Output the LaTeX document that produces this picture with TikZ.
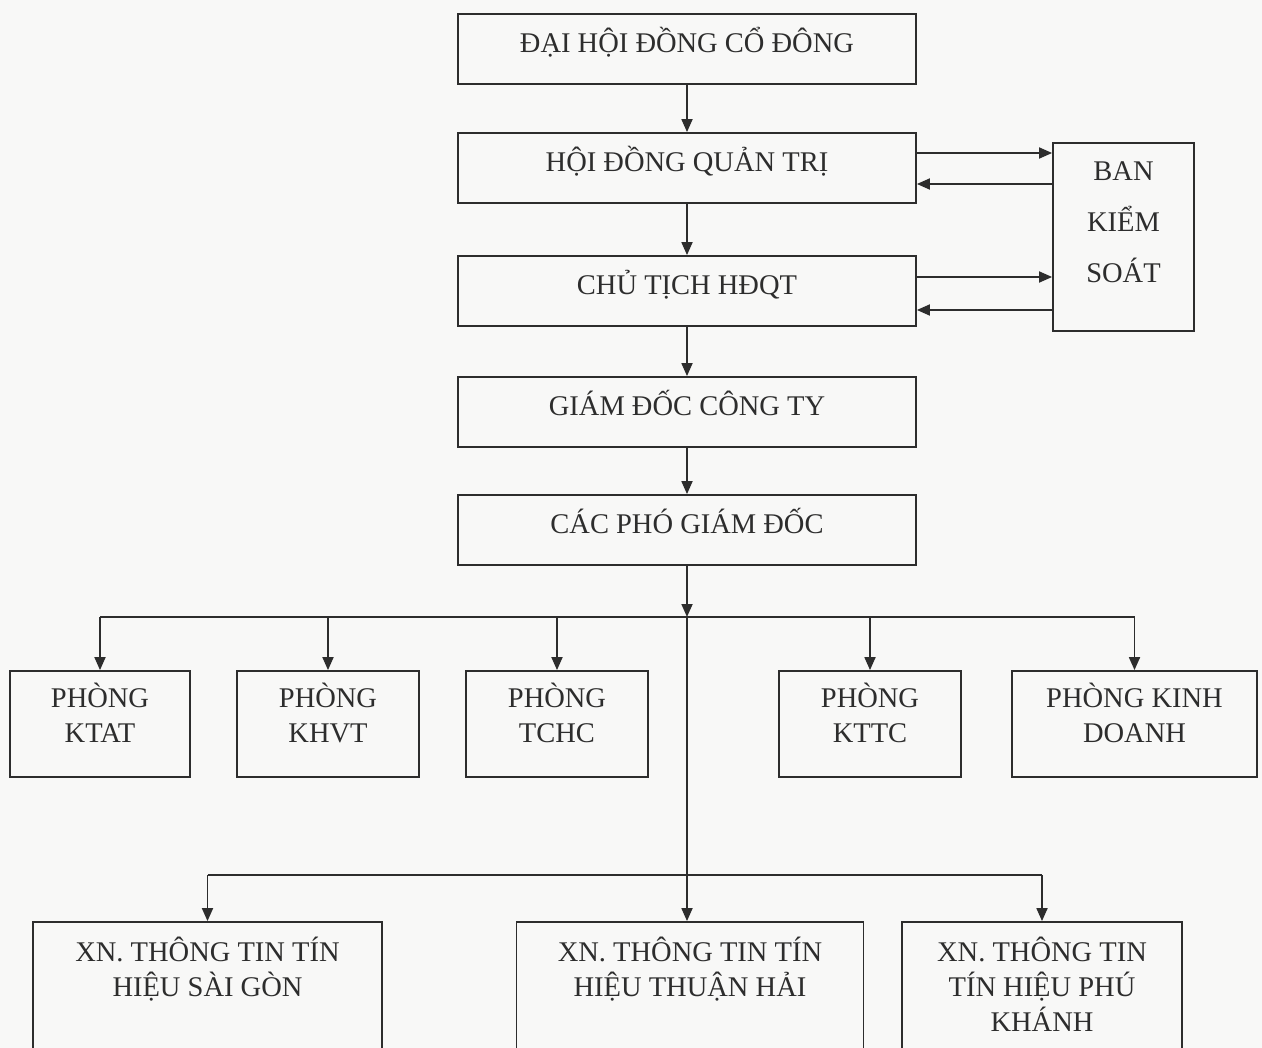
\documentclass[tikz,border=0pt]{standalone}
\usepackage{fontspec}
\setmainfont{Liberation Serif}
\usetikzlibrary{arrows.meta,calc}
\definecolor{ink}{RGB}{45,45,45}
\definecolor{paper}{RGB}{248,248,247}
\newcommand{\lowr}[1]{\rule[-#1]{0pt}{#1}}
\begin{document}
\begin{tikzpicture}[x=1pt,y=-1pt,
  box/.style={draw=ink, line width=1.8pt, align=center, inner sep=0pt, text=ink,
    font=\fontsize{28.5}{35}\selectfont},
  one/.style={box, text height=26pt, text depth=18pt},
  mainbox/.style={one, minimum width=458pt, minimum height=70pt},
  phong/.style={box, minimum height=106pt},
  xn/.style={box, minimum height=132pt},
  arr/.style={draw=ink, line width=1.8pt, -{Triangle[length=13pt,width=11pt]}},
  ln/.style={draw=ink, line width=1.8pt}]
\fill[paper] (0,0) rectangle (1262,1048);
\clip (0,0) rectangle (1262,1048);

\node[mainbox] (dh)   at (687,49)  {ĐẠI HỘI ĐỒNG CỔ ĐÔNG};
\node[mainbox] (hdqt) at (687,168) {HỘI ĐỒNG QUẢN TRỊ};
\node[mainbox] (ct)   at (687,291) {CHỦ TỊCH HĐQT};
\node[mainbox] (gd)   at (687,412) {GIÁM ĐỐC CÔNG TY};
\node[mainbox] (cpgd) at (687,530) {CÁC PHÓ GIÁM ĐỐC};

\node[box, font=\fontsize{28.5}{51}\selectfont, minimum width=141pt, minimum height=188pt]
  (bks) at (1123.5,237) {BAN\\KIỂM\\SOÁT\lowr{30pt}};

\node[phong, minimum width=180pt] (ktat) at (100,724)    {PHÒNG\\KTAT\lowr{23pt}};
\node[phong, minimum width=182pt] (khvt) at (328,724)    {PHÒNG\\KHVT\lowr{23pt}};
\node[phong, minimum width=182pt] (tchc) at (557,724)    {PHÒNG\\TCHC\lowr{23pt}};
\node[phong, minimum width=182pt] (kttc) at (870,724)    {PHÒNG\\KTTC\lowr{23pt}};
\node[phong, minimum width=245pt] (kd)   at (1134.5,724) {PHÒNG KINH\\DOANH\lowr{23pt}};

\node[xn, minimum width=349pt] (sg) at (207.5,988) {XN. THÔNG TIN TÍN\\HIỆU SÀI GÒN\lowr{43pt}};
\node[xn, minimum width=347pt] (th) at (690,988)   {XN. THÔNG TIN TÍN\\HIỆU THUẬN HẢI\lowr{43pt}};
\node[xn, minimum width=280pt] (pk) at (1042,988)  {XN. THÔNG TIN\\TÍN HIỆU PHÚ\\KHÁNH\lowr{8pt}};

\draw[arr] (dh) -- (hdqt);
\draw[arr] (hdqt) -- (ct);
\draw[arr] (ct) -- (gd);
\draw[arr] (gd) -- (cpgd);

\draw[arr] (hdqt.east |- 0,153) -- (bks.west |- 0,153);
\draw[arr] (bks.west |- 0,184) -- (hdqt.east |- 0,184);
\draw[arr] (ct.east |- 0,277) -- (bks.west |- 0,277);
\draw[arr] (bks.west |- 0,310) -- (ct.east |- 0,310);

\coordinate (bus) at (687,617);
\coordinate (bus2) at (687,875);
\draw[arr] (cpgd.south) -- (bus);
\draw[arr] (bus) -- (bus |- th.north);
\draw[ln] (ktat.north |- bus) -- (kd.north |- bus);
\foreach \n in {ktat,khvt,tchc,kttc,kd}
  \draw[arr] (\n.north |- bus) -- (\n.north);
\draw[ln] (sg.north |- bus2) -- (pk.north |- bus2);
\draw[arr] (sg.north |- bus2) -- (sg.north);
\draw[arr] (pk.north |- bus2) -- (pk.north);
\end{tikzpicture}
\end{document}
